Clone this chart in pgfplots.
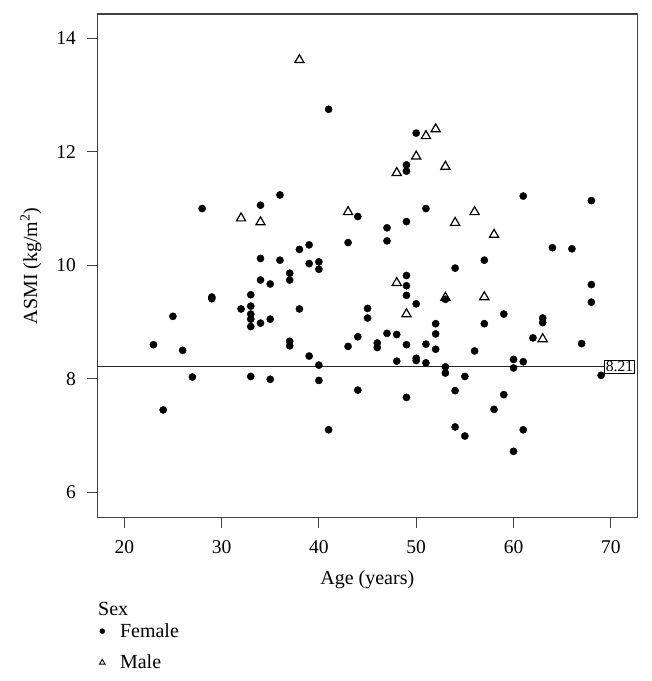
\documentclass[border=0pt]{standalone}
\usepackage{fontspec}
\setmainfont{Liberation Serif}
\usepackage{pgfplots}
\pgfplotsset{compat=1.18}
\begin{document}
\begin{tikzpicture}[font=\fontsize{20}{23}\selectfont]
\useasboundingbox (-97.3pt,-163.3pt) rectangle (554.7pt,517.7pt);
\begin{axis}[
  scale only axis, width=540pt, height=503.7pt,
  xmin=17.23, xmax=72.72, ymin=5.55, ymax=14.43,
  xtick={20,30,40,50,60,70}, ytick={6,8,10,12,14},
  tick align=outside, major tick length=10pt,
  xtick pos=lower, ytick pos=left,
  axis line style={black!75, line width=1.2pt},
  every tick/.style={black!75, line width=1.2pt},
  /pgf/number format/assume math mode=true,
  tick label style={font=\fontsize{19.5}{22}\selectfont},
  xticklabel style={yshift=-9pt},
  yticklabel style={xshift=-8pt},
  xlabel={Age (years)}, ylabel={ASMI (kg/m\textsuperscript{2})},
  xlabel style={at={(axis description cs:0.5,-0.1237)}, anchor=center},
  ylabel style={at={(axis description cs:-0.1228,0.5)}, anchor=center},
  legend style={at={(rel axis cs:0.0041,-0.210)}, anchor=north west, draw=none, fill=none,
    inner sep=0pt, outer sep=0pt, row sep=16pt, column sep=0pt,
    nodes={inner sep=0pt, font=\fontsize{20}{23}\selectfont},
    /tikz/every odd column/.append style={column sep=15pt}},
  legend cell align=left,
]
\addplot[only marks, mark=*, mark size=3.6pt, black,
  legend image code/.code={\draw[mark size=2.5pt] plot coordinates {(0pt,0pt)};}]
  table {
x y
23 8.60
24 7.45
25 9.10
26 8.50
27 8.03
28 11.00
29 9.44
29 9.41
32 9.23
33 9.48
33 9.28
33 9.14
33 9.05
33 8.92
33 8.04
34 11.06
34 10.12
34 9.74
34 8.98
35 9.67
35 9.05
35 7.99
36 11.24
36 10.09
37 9.86
37 9.74
37 8.66
37 8.58
38 10.28
38 9.23
39 10.36
39 10.03
39 8.40
40 10.06
40 9.93
40 8.24
40 7.97
41 12.75
41 7.10
43 10.40
43 8.57
44 10.86
44 8.74
44 7.80
45 9.24
45 9.07
46 8.63
46 8.55
47 10.66
47 10.43
47 8.80
48 8.78
48 8.31
49 11.77
49 11.66
49 10.77
49 9.82
49 9.64
49 9.47
49 8.60
49 7.67
50 12.33
50 9.32
50 8.36
50 8.32
51 11.00
51 8.61
51 8.28
52 8.97
52 8.79
52 8.52
53 9.40
53 8.21
53 8.10
54 9.95
54 7.79
54 7.15
55 8.04
55 6.99
56 8.49
57 10.09
57 8.97
58 7.46
59 9.14
59 7.72
60 8.34
60 8.19
60 6.72
61 11.22
61 8.30
61 7.10
62 8.72
63 9.07
63 8.99
64 10.31
66 10.29
67 8.62
68 11.14
68 9.66
68 9.35
69 8.06
};
\addlegendentry{Female}
\addplot[only marks, mark=triangle, mark size=5.3pt, black, mark options={line width=1.2pt, fill=white},
  legend image code/.code={\draw[mark size=3.2pt, mark options={line width=0.9pt}] plot coordinates {(0pt,0pt)};}]
  table {
x y
32 10.83
34 10.76
38 13.62
43 10.94
48 11.63
48 9.69
49 9.14
50 11.92
51 12.28
52 12.40
53 11.74
53 9.43
54 10.75
56 10.94
57 9.44
58 10.54
63 8.70
};
\addlegendentry{Male}
\addplot[black!85, line width=1.2pt, forget plot] coordinates {(17.23,8.21) (72.49,8.21)};
\node[anchor=east, draw=black, line width=0.9pt, fill=white, inner sep=1.5pt, font=\fontsize{15.5}{15.5}\selectfont] at (axis cs:72.49,8.21) {8.21};
\end{axis}
\node[anchor=west, inner sep=0pt] at (0.7pt,-91.3pt) {Sex};
\end{tikzpicture}
\end{document}
